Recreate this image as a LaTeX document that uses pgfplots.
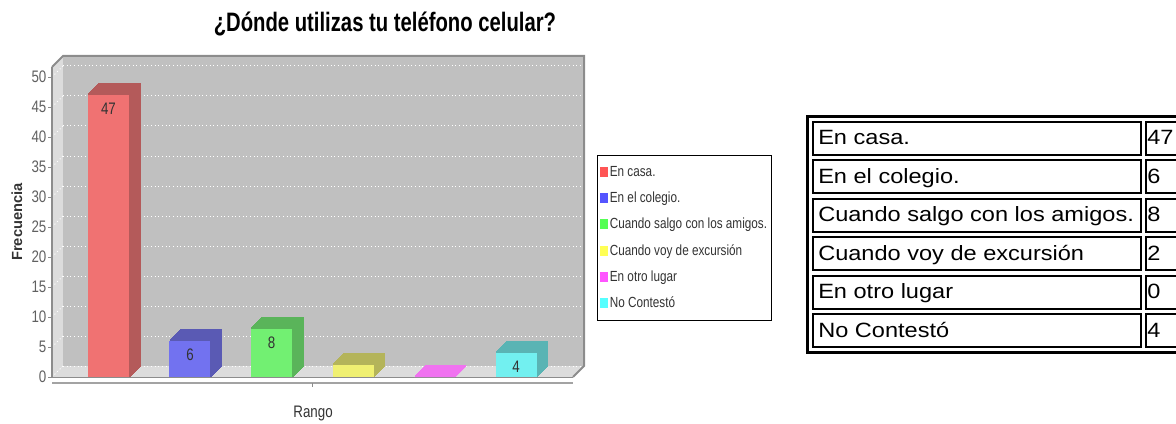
\documentclass[border=0pt]{standalone}
\usepackage{fontspec}
\setmainfont{Liberation Sans}
\newfontfamily\narrow[FakeStretch=0.8]{Liberation Sans}
\newfontfamily\titlefont[FakeStretch=0.76]{Liberation Sans}
\newfontfamily\tablefont[FakeStretch=1.14]{Liberation Sans}
\usepackage{pgfplots}
\pgfplotsset{compat=1.18}

\definecolor{redf}{HTML}{F07272}
\definecolor{redd}{HTML}{B45A5A}
\definecolor{bluef}{HTML}{7272F0}
\definecolor{blued}{HTML}{5A5AB4}
\definecolor{greenf}{HTML}{72F072}
\definecolor{greend}{HTML}{5AB45A}
\definecolor{yellowf}{HTML}{F0F072}
\definecolor{yellowd}{HTML}{B4B45A}
\definecolor{magf}{HTML}{F072F0}
\definecolor{magd}{HTML}{F072F0}
\definecolor{cyanf}{HTML}{72F0F0}
\definecolor{cyand}{HTML}{5AB4B4}
\definecolor{redl}{HTML}{FF5555}
\definecolor{bluel}{HTML}{5555FF}
\definecolor{greenl}{HTML}{55FF55}
\definecolor{yellowl}{HTML}{FFFF55}
\definecolor{magl}{HTML}{FF55FF}
\definecolor{cyanl}{HTML}{55FFFF}
\definecolor{wallc}{HTML}{DCDCDC}
\definecolor{backc}{HTML}{C0C0C0}
\definecolor{borderc}{HTML}{8C8C8C}
\definecolor{tickc}{HTML}{606060}
\definecolor{labc}{HTML}{333333}

\tikzset{
  ex/.style 2 args={preaction={fill=#1,draw=#1,line width=0.9pt,transform canvas={shift={(#2,#2)}}}},
  extrude/.style={ex={#1}{0.75pt},ex={#1}{1.5pt},ex={#1}{2.25pt},ex={#1}{3pt},ex={#1}{3.75pt},ex={#1}{4.5pt},ex={#1}{5.25pt},ex={#1}{6pt},ex={#1}{6.75pt},ex={#1}{7.5pt},ex={#1}{8.25pt}}
}
\pgfplotsset{
  bar3d/.style n args={3}{fill=#1, draw=none, extrude=#2,
    legend image code/.code={%
      \pgfsetfillcolor{#3}%
      \pgfpathrectangle{\pgfpoint{0pt}{-3.75pt}}{\pgfpoint{5.8pt}{7.5pt}}%
      \pgfusepath{fill}}}
}

\begin{document}
\begin{tikzpicture}
\useasboundingbox (0,0) rectangle (882pt,-318pt);
\begin{scope}[x=0.75pt,y=-0.75pt]
  % 3D walls
  \fill[wallc] (52,377) -- (63,366) -- (63,56) -- (52,67) -- cycle;
  \fill[wallc] (52,377) -- (573,377) -- (584,366) -- (63,366) -- cycle;
  \fill[backc] (63,56) rectangle (584,366);
  \foreach \v in {0,5,...,50} {
    \draw[white, dotted, line width=0.75pt] (63,366-6*\v) -- (584,366-6*\v);
    \draw[white, dotted, line width=0.75pt] (52,377-6*\v) -- (63,366-6*\v);
  }
  \draw[borderc, line width=1.5pt] (52,67) -- (63,56) -- (584,56) -- (584,366) -- (573,377);
  \draw[borderc, line width=0.75pt] (52,377) -- (573,377);
  % x axis line
  \draw[borderc!80, line width=1.5pt] (52,383) -- (573,383);
  \draw[borderc, line width=0.75pt] (312,383) -- (312,387);
\end{scope}

\begin{axis}[
  at={(39pt,-282.75pt)}, anchor=south west,
  scale only axis, width=390.75pt, height=232.5pt,
  xmin=-0.693, xmax=5.699, ymin=0, ymax=51.667,
  axis y line*=left, axis x line*=bottom,
  axis line style={-, draw=borderc, line width=1pt},
  x axis line style={draw=none},
  xtick=\empty,
  ytick={0,5,...,50},
  tick align=outside, major tick length=3pt,
  tick style={draw=borderc, line width=0.75pt},
  /pgf/number format/assume math mode=true,
  yticklabel style={font=\narrow\fontsize{12.5}{13}\selectfont, text=tickc, inner sep=1pt},
  ylabel={Frecuencia},
  every axis y label/.style={at={(axis description cs:-0.0672,0.5)}, rotate=90, anchor=center,
     font=\bfseries\fontsize{11}{12}\selectfont, text=labc},
  xlabel={Rango},
  every axis x label/.style={at={(axis description cs:0.501,-0.118)}, anchor=center,
     font=\narrow\fontsize{12.5}{13}\selectfont, text=labc},
  title={\titlefont\bfseries\fontsize{20}{22}\selectfont ¿Dónde utilizas tu teléfono celular?},
  every axis title/.style={at={(axis description cs:0.639,1.113)}, anchor=base},
  ybar, bar width=30.75pt,
  every axis plot/.append style={bar shift=0pt},
  every node near coord/.append style={anchor=center, yshift=-10.5pt,
     font=\narrow\fontsize{12.5}{13}\selectfont, text=labc},
  clip=false,
  legend style={at={(axis description cs:1.046,0.716)}, anchor=north west,
     draw=black, line width=0.75pt, font=\narrow\fontsize{11}{12}\selectfont,
     text=labc, row sep=6.2pt, inner xsep=2pt, inner ysep=6pt,
     nodes={inner xsep=1.5pt}},
  legend cell align=left,
]
\addplot[bar3d={redf}{redd}{redl}, nodes near coords] coordinates {(0,47)};
\addlegendentry{En casa.}
\addplot[bar3d={bluef}{blued}{bluel}, nodes near coords] coordinates {(1,6)};
\addlegendentry{En el colegio.}
\addplot[bar3d={greenf}{greend}{greenl}, nodes near coords] coordinates {(2,8)};
\addlegendentry{Cuando salgo con los amigos.}
\addplot[bar3d={yellowf}{yellowd}{yellowl}] coordinates {(3,2)};
\addlegendentry{Cuando voy de excursión}
\addplot[bar3d={magf}{magd}{magl}] coordinates {(4,0)};
\addlegendentry{En otro lugar}
\addplot[bar3d={cyanf}{cyand}{cyanl}, nodes near coords] coordinates {(5,4)};
\addlegendentry{No Contestó}
\end{axis}

\begin{scope}[x=0.75pt,y=-0.75pt]
  \draw[line width=2.25pt] (807.5,116.5) rectangle (1195,352);
  \foreach \i/\lab/\val in {0/En casa./47, 1/En el colegio./6, 2/Cuando salgo con los amigos./8,
      3/Cuando voy de excursión/2, 4/En otro lugar/0, 5/No Contestó/4} {
    \pgfmathsetmacro{\t}{121+38.4*\i}
    \draw[line width=1.5pt] (813,\t+1) rectangle (1141,\t+34);
    \draw[line width=1.5pt] (1146,\t+1) rectangle (1195,\t+34);
    \node[anchor=base west, inner sep=0pt, font=\tablefont\fontsize{15.5}{17}\selectfont] at (818,\t+24) {\lab};
    \node[anchor=base west, inner sep=0pt, font=\tablefont\fontsize{15.5}{17}\selectfont] at (1147,\t+24) {\val};
  }
\end{scope}
\end{tikzpicture}
\end{document}
